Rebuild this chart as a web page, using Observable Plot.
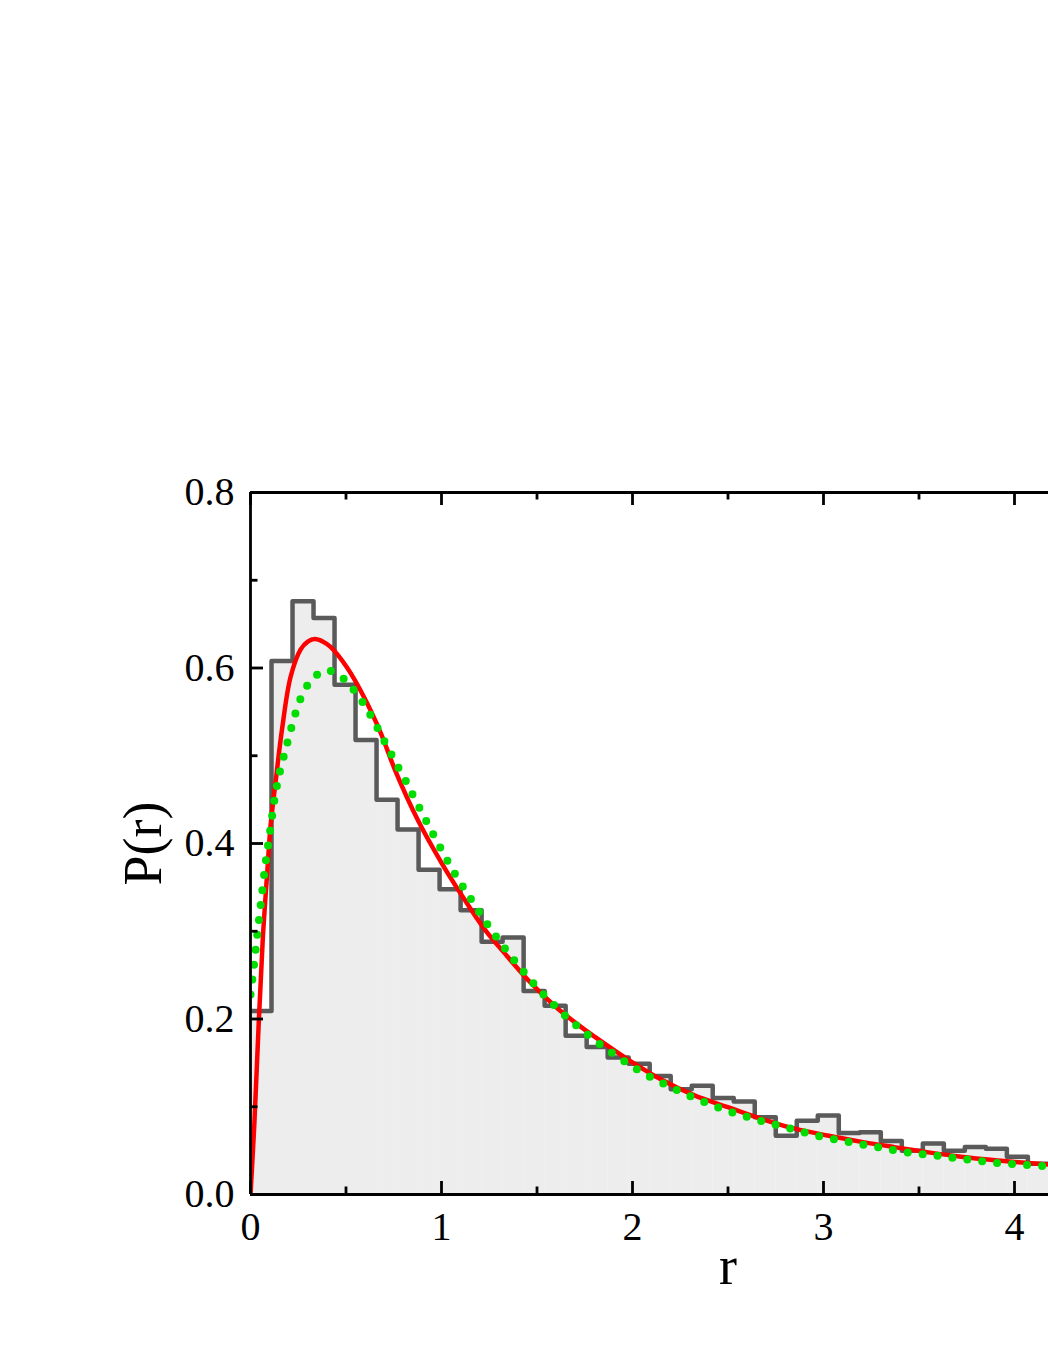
<!DOCTYPE html>
<html>
<head>
<meta charset="utf-8">
<script src="https://cdn.jsdelivr.net/npm/d3@7"></script>
<script src="https://cdn.jsdelivr.net/npm/@observablehq/plot@0.6"></script>
<style>
html, body { margin: 0; padding: 0; background: #ffffff; overflow: hidden; }
#chart svg { display: block; }
</style>
</head>
<body>
<div id="chart"></div>
<script>
// ---- Histogram (bin starts, width 0.11) ----
const binStarts = [0, 0.11, 0.22, 0.33, 0.44, 0.55, 0.66, 0.77, 0.88, 0.99,
  1.10, 1.21, 1.32, 1.43, 1.54, 1.65, 1.76, 1.87, 1.98, 2.09,
  2.20, 2.31, 2.42, 2.53, 2.64, 2.75, 2.86, 2.97, 3.08, 3.19,
  3.30, 3.41, 3.52, 3.63, 3.74, 3.85, 3.96, 4.07];
const binEnd = 4.18;
const histHeights = [0.209, 0.608, 0.676, 0.657, 0.581, 0.518, 0.450, 0.416, 0.370, 0.348,
  0.324, 0.288, 0.293, 0.232, 0.215, 0.181, 0.168, 0.156, 0.149, 0.135,
  0.120, 0.124, 0.110, 0.106, 0.088, 0.067, 0.084, 0.090, 0.070, 0.071,
  0.061, 0.050, 0.058, 0.050, 0.054, 0.052, 0.043, 0.035];

// ---- Red solid curve ----
const redR = [0, 0.02, 0.044, 0.064, 0.087, 0.105, 0.134, 0.165, 0.21, 0.262,
  0.30, 0.336, 0.38, 0.419, 0.507, 0.594, 0.68, 0.76, 0.88, 1.0,
  1.10, 1.223, 1.346, 1.468, 1.608, 1.73, 1.80, 1.975, 2.15, 2.324,
  2.50, 2.674, 2.85, 3.02, 3.20, 3.37, 3.55, 3.72, 3.90, 4.18];
const redP = [0, 0.08, 0.20, 0.29, 0.365, 0.42, 0.475, 0.53, 0.59, 0.621,
  0.630, 0.633, 0.630, 0.624, 0.600, 0.567, 0.527, 0.482, 0.425, 0.378,
  0.343, 0.303, 0.271, 0.241, 0.212, 0.191, 0.180, 0.154, 0.131, 0.113,
  0.0995, 0.0863, 0.075, 0.0672, 0.060, 0.054, 0.048, 0.043, 0.039, 0.034];

// ---- Green dotted curve ----
const greenR = [0, 0.01, 0.021, 0.035, 0.056, 0.079, 0.10, 0.127, 0.155, 0.185,
  0.218, 0.262, 0.315, 0.388, 0.458, 0.512, 0.565, 0.61, 0.652, 0.69,
  0.729, 0.765, 0.804, 0.839, 0.912, 0.987, 1.066, 1.153, 1.24, 1.337,
  1.433, 1.538, 1.657, 1.783, 1.922, 2.059, 2.203, 2.347, 2.50, 2.655,
  2.81, 2.967, 3.125, 3.28, 3.44, 3.60, 3.75, 3.91, 4.18];
const greenP = [0.228, 0.245, 0.267, 0.295, 0.335, 0.378, 0.41, 0.452, 0.483, 0.508,
  0.535, 0.565, 0.585, 0.597, 0.593, 0.582, 0.568, 0.553, 0.537, 0.521,
  0.505, 0.490, 0.475, 0.460, 0.429, 0.398, 0.367, 0.337, 0.308, 0.279,
  0.253, 0.227, 0.202, 0.179, 0.157, 0.138, 0.122, 0.108, 0.095, 0.085,
  0.076, 0.067, 0.060, 0.054, 0.048, 0.044, 0.040, 0.036, 0.032];

// ---- Axes ----
const xDomain = [0, 4.178];
const yDomain = [0, 0.8];
const xMajorTicks = [0, 1, 2, 3, 4];
const xMinorTicks = [0.5, 1.5, 2.5, 3.5];
const yMajorTicks = [0, 0.2, 0.4, 0.6, 0.8];
const yMinorTicks = [0.1, 0.3, 0.5, 0.7];
const xTitle = [{text: "r", x: 2.5}];
const yTitle = ["P(r)"];

// ---- Layout ----
const W = 1048, H = 1356;
const mTop = 492, mBottom = 162, mLeft = 250, mRight = 0;
const innerW = W - mLeft - mRight, innerH = H - mTop - mBottom;
const majorLen = 13, minorLen = 7.5;
const axisColor = "#000000", axisWidth = 2.8;

const bins = binStarts.map((x, i) => ({
  x1: x, x2: i + 1 < binStarts.length ? binStarts[i + 1] : binEnd, y: histHeights[i]
}));
const outline = binStarts.map((x, i) => ({x, y: histHeights[i]}))
  .concat([{x: binEnd, y: histHeights[histHeights.length - 1]}]);
const red = redR.map((r, i) => ({r, p: redP[i]}));
const green = greenR.map((r, i) => ({r, p: greenP[i]}));

const tickStyle = {stroke: axisColor, strokeWidth: axisWidth};

const chart = Plot.plot({
  width: W, height: H,
  marginTop: mTop, marginBottom: mBottom, marginLeft: mLeft, marginRight: mRight,
  style: {fontFamily: "'Liberation Serif', 'Times New Roman', serif", color: "#000", background: "#fff"},
  x: {domain: xDomain},
  y: {domain: yDomain},
  marks: [
    Plot.rectY(bins, {x1: "x1", x2: "x2", y: "y", fill: "#ededed", clip: true}),
    Plot.line(outline, {x: "x", y: "y", curve: "step-after", stroke: "#5a5a5a", strokeWidth: 4.5, clip: true}),
    Plot.line(red, {x: "r", y: "p", curve: "catmull-rom", stroke: "#ff0000", strokeWidth: 4.5, clip: true}),
    Plot.line(green, {x: "r", y: "p", curve: "catmull-rom", stroke: "#00dd00", strokeWidth: 8,
      strokeDasharray: "0 15", strokeLinecap: "round", clip: true}),
    // frame lines
    Plot.ruleY([yDomain[0]], tickStyle),
    Plot.ruleY([yDomain[1]], tickStyle),
    Plot.ruleX([xDomain[0]], tickStyle),
    // inward ticks bottom & top
    Plot.ruleX(xMajorTicks, {x: d => d, insetTop: innerH - majorLen, ...tickStyle}),
    Plot.ruleX(xMinorTicks, {x: d => d, insetTop: innerH - minorLen, ...tickStyle}),
    Plot.ruleX(xMajorTicks, {x: d => d, insetBottom: innerH - majorLen, ...tickStyle}),
    Plot.ruleX(xMinorTicks, {x: d => d, insetBottom: innerH - minorLen, ...tickStyle}),
    // inward ticks left
    Plot.ruleY(yMajorTicks, {y: d => d, insetRight: innerW - majorLen, ...tickStyle}),
    Plot.ruleY(yMinorTicks, {y: d => d, insetRight: innerW - minorLen, ...tickStyle}),
    // tick labels
    Plot.axisX(xMajorTicks, {tickSize: 0, tickPadding: 17, tickFormat: d3.format("d"), fontSize: 40, label: null}),
    Plot.axisY(yMajorTicks, {tickSize: 0, tickPadding: 16, tickFormat: d3.format(".1f"), fontSize: 40, label: null}),
    // axis titles
    Plot.text(xTitle, {x: "x", text: "text", frameAnchor: "bottom", lineAnchor: "middle", textAnchor: "middle", dy: 72, fontSize: 54}),
    Plot.text(yTitle, {text: d => d, frameAnchor: "left", lineAnchor: "middle", textAnchor: "middle", rotate: -90, dx: -107, fontSize: 54})
  ]
});
document.getElementById("chart").appendChild(chart);
</script>
</body>
</html>
